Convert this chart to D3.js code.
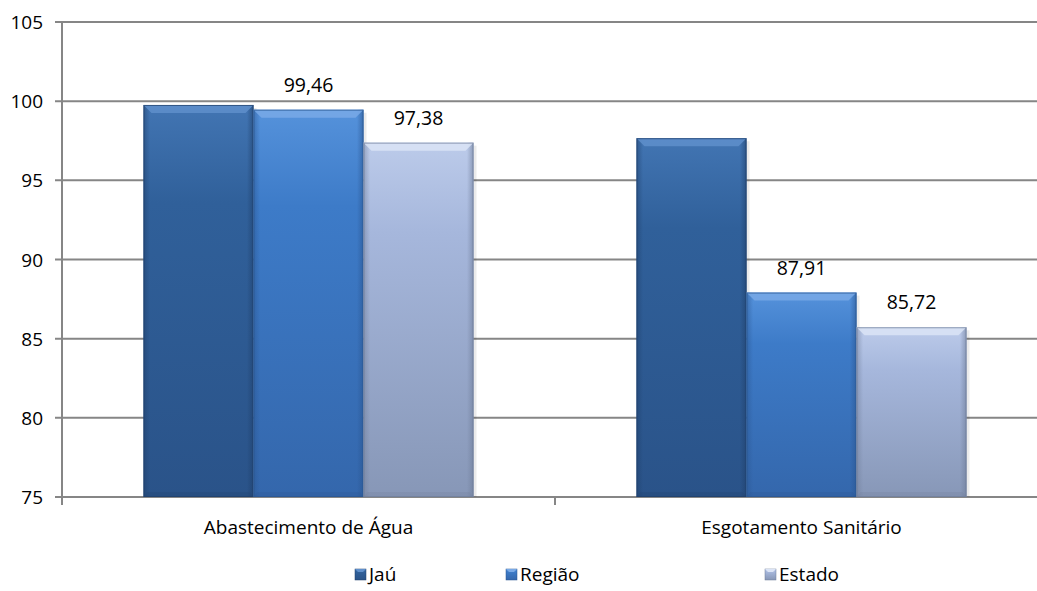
<!DOCTYPE html>
<html><head><meta charset="utf-8">
<script src="https://cdn.jsdelivr.net/npm/d3@7"></script>
<style>body{margin:0;background:#fff}svg{display:block}text{font-family:"Open Sans","Noto Sans",sans-serif;fill:#000}</style>
</head><body>
<script>
const categories = ["Abastecimento de Água", "Esgotamento Sanitário"];
const seriesNames = ["Jaú", "Região", "Estado"];
const jau = [99.76, 97.66];
const regiao = [99.46, 87.91];
const estado = [97.38, 85.72];
const yTicks = [75, 80, 85, 90, 95, 100, 105];
const showLabel = [false, true, true];

const W = 1037, H = 591;
const svg = d3.select("body").append("svg").attr("width", W).attr("height", H);
const x0 = d3.scaleBand().domain(categories).range([62, 1048]).paddingInner(0).paddingOuter(0);
const x1 = d3.scaleBand().domain(seriesNames).range([81.5, 411.5]);
const y = d3.scaleLinear().domain([75, 105]).range([497, 22]);

const pal = [
  {top:"#4275b3", mid:"#30609a", bot:"#2a5389", edge:"#1f3f6a", bev:"#5f8fcb"},
  {top:"#5592db", mid:"#3d7bc8", bot:"#3467ac", edge:"#2a5590", bev:"#79a9e6"},
  {top:"#bccbea", mid:"#a6b7dc", bot:"#8797b7", edge:"#6e7c98", bev:"#dbe4f6"}
];
const defs = svg.append("defs");
pal.forEach((p,i)=>{
  const g = defs.append("linearGradient").attr("id","g"+i).attr("x1",0).attr("y1",0).attr("x2",0).attr("y2",1);
  g.append("stop").attr("offset","0%").attr("stop-color",p.top);
  g.append("stop").attr("offset","25%").attr("stop-color",p.mid);
  g.append("stop").attr("offset","100%").attr("stop-color",p.bot);
  const h = defs.append("linearGradient").attr("id","h"+i).attr("x1",0).attr("y1",0).attr("x2",1).attr("y2",0);
  h.append("stop").attr("offset","0%").attr("stop-color",p.edge).attr("stop-opacity",0.5);
  h.append("stop").attr("offset","6%").attr("stop-color",p.edge).attr("stop-opacity",0);
  h.append("stop").attr("offset","94%").attr("stop-color",p.edge).attr("stop-opacity",0);
  h.append("stop").attr("offset","100%").attr("stop-color",p.edge).attr("stop-opacity",0.6);
});

// gridlines
svg.append("g").selectAll("line").data(yTicks).join("line")
  .attr("x1",55).attr("x2",W).attr("y1",d=>y(d)).attr("y2",d=>y(d))
  .attr("stroke","#868686").attr("stroke-width",2);
// y axis line
svg.append("line").attr("x1",62).attr("x2",62).attr("y1",y(105)).attr("y2",505).attr("stroke","#868686").attr("stroke-width",2);
// x ticks
const xb = [62, 62+x0.bandwidth(), 62+2*x0.bandwidth()];
svg.append("g").selectAll("line").data(xb).join("line")
  .attr("x1",d=>d).attr("x2",d=>d).attr("y1",497).attr("y2",505).attr("stroke","#868686").attr("stroke-width",2);
// y labels
svg.append("g").selectAll("text").data(yTicks).join("text")
  .attr("x",43).attr("y",d=>y(d)+7).attr("text-anchor","end").attr("font-size",19).text(d=>d);

const data = [jau, regiao, estado];
categories.forEach((c,ci)=>{
  const g = svg.append("g").attr("transform",`translate(${x0(c)},0)`);
  seriesNames.forEach((s,si)=>{
    const v = data[si][ci];
    const bx = x1(s), bw = x1.bandwidth(), by = y(v), bh = y(75)-y(v);
    const p = pal[si];
    g.append("rect").attr("x",bx+3).attr("y",by+3).attr("width",bw).attr("height",bh-3).attr("fill","#000").attr("opacity",0.08);
    g.append("rect").attr("x",bx).attr("y",by).attr("width",bw).attr("height",bh).attr("fill",`url(#g${si})`);
    g.append("rect").attr("x",bx).attr("y",by).attr("width",bw).attr("height",bh).attr("fill",`url(#h${si})`);
    const b = 8;
    g.append("path").attr("d",`M${bx},${by}L${bx+bw},${by}L${bx+bw-b},${by+b}L${bx+b},${by+b}Z`).attr("fill",p.bev).attr("opacity",0.85);
    g.append("path").attr("d",`M${bx},${by+bh}L${bx+bw},${by+bh}L${bx+bw-4},${by+bh-5}L${bx+4},${by+bh-5}Z`).attr("fill",p.edge).attr("opacity",0.25);
    g.append("rect").attr("x",bx+0.5).attr("y",by+0.5).attr("width",bw-1).attr("height",bh-1).attr("fill","none").attr("stroke",p.edge).attr("stroke-opacity",0.7).attr("stroke-width",1);
    if (showLabel[si]) {
      g.append("text").attr("x",bx+bw/2).attr("y",by-18).attr("text-anchor","middle").attr("font-size",19.5)
        .text(d3.format(".2f")(v).replace(".",","));
    }
  });
  svg.append("text").attr("x",x0(c)+x0.bandwidth()/2).attr("y",534).attr("text-anchor","middle").attr("font-size",19).text(c);
});

// legend
const legX = [355, 506, 765];
const lg = svg.append("g");
seriesNames.forEach((s,i)=>{
  const p = pal[i];
  lg.append("rect").attr("x",legX[i]).attr("y",569).attr("width",11).attr("height",11).attr("fill",`url(#g${i})`).attr("stroke",p.edge).attr("stroke-width",0.5);
  lg.append("path").attr("d",`M${legX[i]},569L${legX[i]+11},569L${legX[i]+8},572L${legX[i]+3},572Z`).attr("fill",p.bev);
  lg.append("text").attr("x",legX[i]+14).attr("y",581).attr("font-size",19).text(s);
});
</script>
</body></html>
